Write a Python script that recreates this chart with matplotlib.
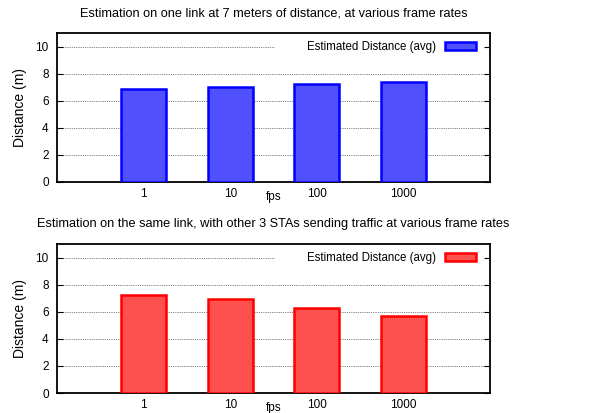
import matplotlib
matplotlib.use('Agg')
import matplotlib.pyplot as plt
import numpy as np

fps_labels = ['1', '10', '100', '1000']
dist_single = [6.9, 7.02, 7.25, 7.37]
dist_traffic = [7.24, 6.95, 6.31, 5.70]

titles = ['Estimation on one link at 7 meters of distance, at various frame rates',
          'Estimation on the same link, with other 3 STAs sending traffic at various frame rates']
fills = ['#5050ff', '#ff5050']
edges = ['#0000ff', '#ff0000']

plt.rcParams['font.family'] = ['Liberation Sans', 'DejaVu Sans']
plt.rcParams['font.size'] = 8.5

fig = plt.figure(figsize=(6.15, 4.13), dpi=100)
W, H = 615, 413
boxes = [(57, 33, 490, 182), (57, 244, 490, 393)]

x = np.arange(len(fps_labels))
for (l, t, r, b), vals, title, fc, ec in zip(boxes, [dist_single, dist_traffic], titles, fills, edges):
    ax = fig.add_axes([l / W, 1 - b / H, (r - l) / W, (b - t) / H])
    ax.bar(x, vals, width=0.52, color=fc, edgecolor=ec, linewidth=1.8,
           label='Estimated Distance (avg)', zorder=3)
    ax.set_xlim(-1, 4)
    ax.set_ylim(0, 11)
    ax.set_yticks(range(0, 11, 2))
    ax.set_xticks(x)
    ax.set_xticklabels(fps_labels)
    ax.tick_params(axis='x', length=0, pad=4)
    ax.tick_params(axis='y', direction='in', right=True, length=4, width=0.8, pad=6)
    for gy in range(2, 11, 2):
        xmax = 0.5 if gy == 10 else 1
        ax.axhline(gy, xmin=0, xmax=xmax, color='#555555', linestyle=(0, (1, 1.2)),
                   linewidth=0.6, zorder=1)
    for s in ax.spines.values():
        s.set_linewidth(1.3)
    ax.set_ylabel('Distance (m)', fontsize=10, labelpad=6)
    ax.set_xlabel('fps', labelpad=-6)
    ax.set_title(title, fontsize=9.2, pad=12)
    ax.legend(loc='upper right', bbox_to_anchor=(0.986, 1), frameon=False, markerfirst=False,
              handlelength=2.7, handleheight=0.7, borderaxespad=0.3,
              handletextpad=0.8, fontsize=8.3)

plt.savefig('out.png', dpi=100)
